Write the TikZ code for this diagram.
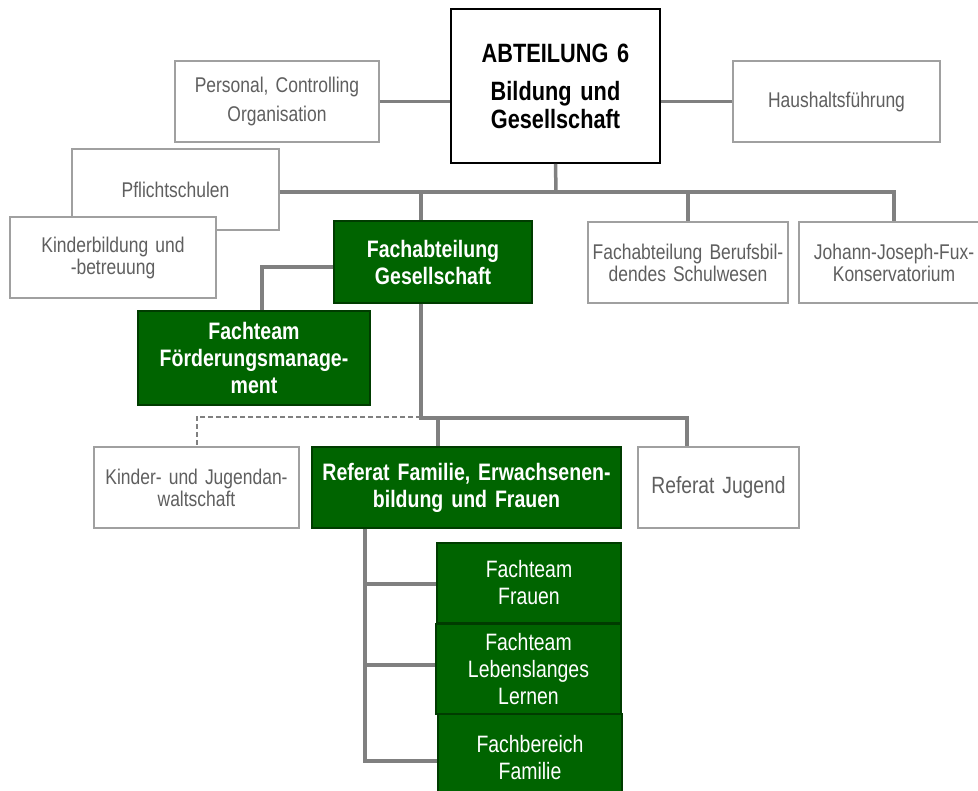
\documentclass[tikz,border=0pt]{standalone}
\usepackage{fontspec}
\setmainfont{Liberation Sans}[FakeStretch=0.82]
\definecolor{boxgreen}{RGB}{0,100,0}
\definecolor{boxgreenline}{RGB}{0,60,0}
\definecolor{boxgray}{RGB}{160,160,160}
\definecolor{textgray}{RGB}{95,95,95}
\definecolor{linegray}{RGB}{128,128,128}

\begin{document}
\begin{tikzpicture}[x=1pt, y=-1pt,
        graybox/.style={draw=boxgray, line width=1.8pt, fill=white, rectangle, inner sep=0pt,
            align=center, text=textgray, font=\fontsize{21.3}{22}\selectfont},
        greenbox/.style={draw=boxgreenline, line width=1.5pt, fill=boxgreen, rectangle, inner sep=0pt,
            align=center, text=white, font=\fontsize{23.8}{27}\selectfont\bfseries},
        greenlight/.style={greenbox, font=\fontsize{23.7}{27}\selectfont},
        conn/.style={draw=linegray, line width=3.5pt},
        dashconn/.style={draw=linegray, line width=2pt, dash pattern=on 5pt off 3pt}]
        \useasboundingbox (0,0) rectangle (978,791);

        % Connectors first, boxes on top
        \coordinate (bus) at (556,192);
        \coordinate (fork) at (421,418);
        \coordinate (spine) at (365,528);

        % Top level
        \node[draw=black, line width=1.8pt, fill=white, rectangle, inner sep=0pt, align=center,
            text width=209, minimum height=154, font=\fontsize{26.5}{28}\selectfont\bfseries]
            (main) at (555.5,86) {ABTEILUNG 6\\[10pt]Bildung und\\Gesellschaft};
        \node[graybox, text width=204, minimum height=81] (pers) at (277,101.5)
            {Personal, Controlling\\[7pt]Organisation};
        \node[graybox, text width=207, minimum height=81] (haus) at (836.5,101.5) {Haushaltsführung};

        \draw[conn] (pers.east) -- (pers.east -| main.west);
        \draw[conn] (haus.west) -- (haus.west -| main.east);

        % Second level
        \node[graybox, text width=207, minimum height=81] (pflicht) at (175.5,189.5) {Pflichtschulen};
        \node[graybox, text width=206, minimum height=81] (kinderb) at (113,257.5)
            {Kinderbildung und\\-betreuung};
        \node[graybox, text width=200, minimum height=81] (berufs) at (688,262.5)
            {Fachabteilung Berufsbil-\\dendes Schulwesen};
        \node[graybox, text width=190, minimum height=81] (fux) at (894,262.5)
            {Johann-Joseph-Fux-\\Konservatorium};
        \node[greenbox, text width=198, minimum height=82] (fachG) at (433,262)
            {Fachabteilung\\Gesellschaft};

        \draw[conn] (main.south) -- (bus);
        \draw[conn] (pflicht.east |- bus) -- (bus -| fux.north) -- (fux.north);
        \draw[conn] (bus -| berufs.north) -- (berufs.north);
        \draw[conn] (bus -| fork) -- (fachG.north -| fork);

        % Fachteam
        \node[greenbox, text width=232, minimum height=94] (foerd) at (254,358)
            {Fachteam\\Förderungsmanage-\\ment};
        \draw[conn] ([yshift=-5pt]fachG.west) -| ([xshift=8pt]foerd.north);

        % Referate
        \node[graybox, text width=205, minimum height=81] (jugendanw) at (196.5,487.5)
            {Kinder- und Jugendan-\\waltschaft};
        \node[greenbox, text width=309, minimum height=81] (refFam) at (466.5,487.5)
            {Referat Familie, Erwachsenen-\\bildung und Frauen};
        \node[graybox, text width=161, minimum height=81, font=\fontsize{23.5}{24}\selectfont]
            (refJug) at (718.5,487.5) {Referat Jugend};

        \draw[conn] (fachG.south -| fork) -- (fork) -| ([xshift=-31.5pt]refJug.north);
        \draw[conn] (fork -| refFam.north) ++(-28.5,0) -- ([xshift=-28.5pt]refFam.north);
        \draw[dashconn] ([yshift=1pt]fork) -| (jugendanw.north);

        % Fachteams unter dem Referat
        \draw[conn] (refFam.south -| spine) -- (spine |- 0,761);
        \node[greenlight, text width=184, minimum height=80] (frauen) at (529,583) {Fachteam\\Frauen};
        \node[greenlight, text width=185, minimum height=90] (lernen) at (528.5,669)
            {Fachteam\\Lebenslanges\\Lernen};
        \node[greenlight, text width=184, minimum height=88] (familie) at (530,758)
            {Fachbereich\\Familie};

        \draw[conn] (spine |- 0,584) -- (frauen.west |- 0,584);
        \draw[conn] (spine |- 0,665) -- (lernen.west |- 0,665);
        \draw[conn] ([xshift=-1.75pt]spine |- 0,761) -- (familie.west |- 0,761);
    \end{tikzpicture}
\end{document}
